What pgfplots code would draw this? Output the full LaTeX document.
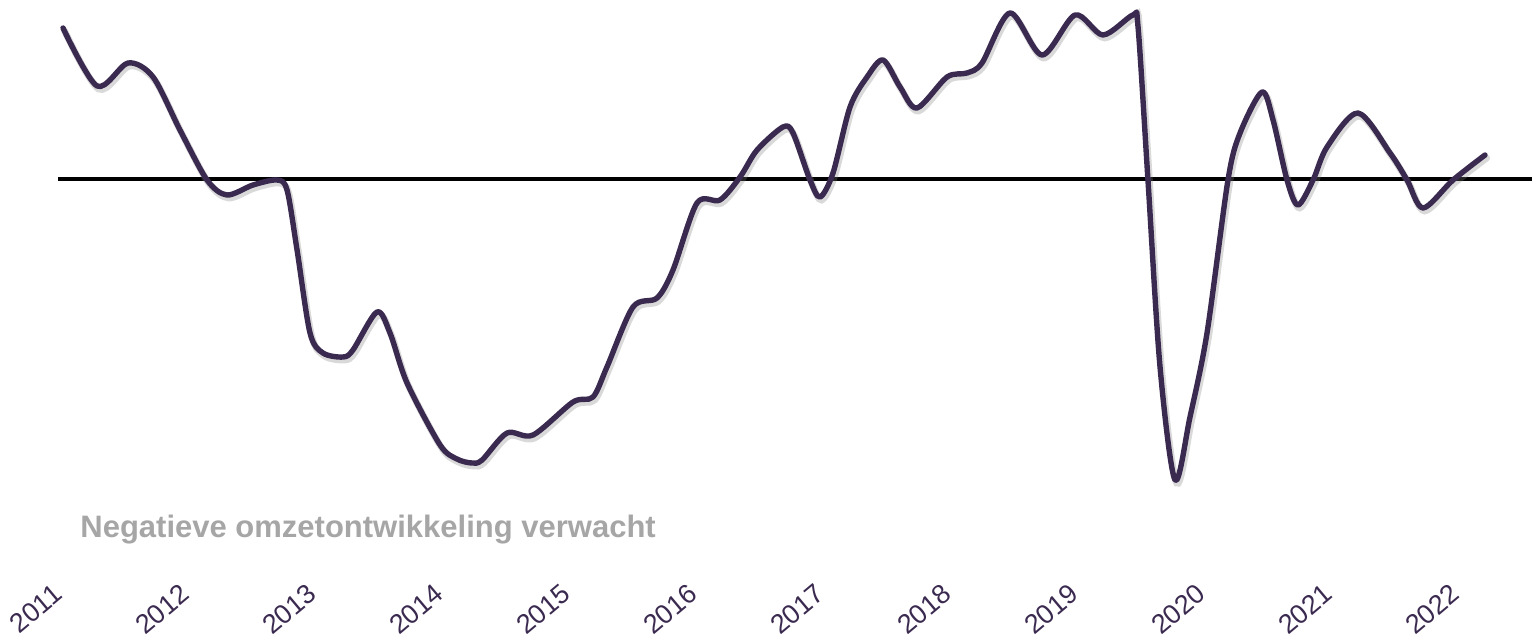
\documentclass[border=0pt]{standalone}
\usepackage{pgfplots}
\pgfplotsset{compat=1.18}
\usepackage{fontspec}
\setmainfont{Liberation Sans}
\definecolor{linepurple}{RGB}{59,42,80}
\definecolor{labelgray}{RGB}{166,166,166}
\begin{document}
\begin{tikzpicture}
\useasboundingbox (-29pt,-26.5pt) rectangle (737pt,292pt);
\begin{axis}[
  at={(0,0)}, anchor=south west,
  scale only axis, width=737pt, height=292pt,
  xmin=2010.9606, xmax=2022.5669,
  ymin=-40.5, ymax=17.9,
  axis line style={draw=none},
  tick style={draw=none},
  ytick=\empty,
  xtick={2011,2012,2013,2014,2015,2016,2017,2018,2019,2020,2021,2022},
  xticklabels={2011,2012,2013,2014,2015,2016,2017,2018,2019,2020,2021,2022},
  xticklabel style={rotate=40, anchor=north east, inner sep=0pt, xshift=-3.5pt, yshift=4.2pt,
    font=\fontsize{13.5}{15}\selectfont, text=linepurple},
  clip=false,
]
\addplot[black, line width=2pt] coordinates {(2010.9606,0) (2022.5669,0)};
\pgfplotstableread{
x y
2011.000 15.1
2011.268 9.3
2011.512 11.6
2011.709 10.2
2011.921 4.9
2012.134 -0.1
2012.291 -1.6
2012.496 -0.6
2012.685 -0.1
2012.764 -1.1
2012.843 -7.1
2012.945 -15.4
2013.047 -17.4
2013.205 -17.8
2013.283 -17.1
2013.472 -13.3
2013.575 -15.4
2013.709 -20.4
2013.969 -26.6
2014.102 -28.0
2014.220 -28.4
2014.300 -28.1
2014.496 -25.4
2014.701 -25.6
2015.016 -22.3
2015.173 -21.8
2015.283 -18.8
2015.488 -12.8
2015.677 -11.9
2015.803 -9.1
2015.992 -2.4
2016.173 -2.1
2016.331 0.2
2016.465 2.9
2016.669 5.2
2016.748 4.6
2016.882 -0.1
2016.961 -1.8
2017.063 0.6
2017.197 7.2
2017.331 10.2
2017.457 11.9
2017.591 9.2
2017.724 7.1
2017.961 10.2
2018.118 10.6
2018.236 11.6
2018.457 16.6
2018.709 12.4
2018.969 16.4
2019.189 14.4
2019.425 16.4
2019.465 15.2
2019.543 -0.1
2019.638 -18.8
2019.756 -30.1
2019.874 -23.8
2020.008 -15.4
2020.173 -0.1
2020.268 4.6
2020.441 8.7
2020.528 5.9
2020.638 -0.1
2020.724 -2.6
2020.843 -0.1
2020.953 3.2
2021.197 6.6
2021.449 2.6
2021.583 -0.1
2021.709 -2.9
2021.945 -0.1
2022.197 2.4
}\datatable
\addplot[gray, opacity=0.3, line width=3.4pt, smooth, line cap=round,
  transform canvas={xshift=0.8pt, yshift=-1.5pt}] table {\datatable};
\addplot[linepurple, line width=2.7pt, smooth, line cap=round, line join=round] table {\datatable};
\node[anchor=west, inner sep=0pt, text=labelgray, font=\bfseries\fontsize{15.5}{18}\selectfont]
  at (axis cs:2011.134,-35.1) {Negatieve omzetontwikkeling verwacht};
\end{axis}
\end{tikzpicture}
\end{document}
